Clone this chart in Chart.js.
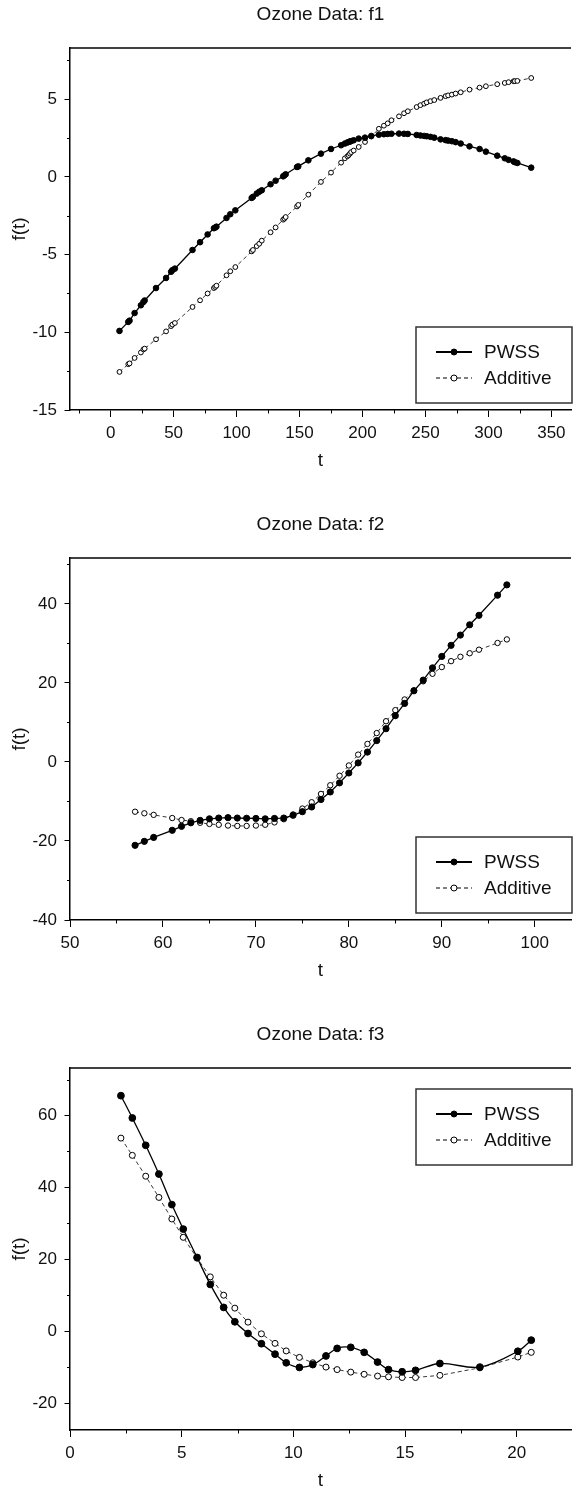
<!DOCTYPE html>
<html lang="en">
<head>
<meta charset="UTF-8">
<title>Ozone Data</title>
<script src="https://cdn.jsdelivr.net/npm/chart.js"></script>
<style>
  * { margin: 0; padding: 0; box-sizing: border-box; }
  body {
    background: #fff;
    width: 576px;
    height: 1490px;
    overflow: hidden;
    position: relative;
  }
  .panel { position: absolute; left: 0; width: 576px; height: 480px; }
</style>
</head>
<body>
<div class="panel" style="top:0"><canvas id="f1" width="576" height="480"></canvas></div>
<div class="panel" style="top:510px"><canvas id="f2" width="576" height="480"></canvas></div>
<div class="panel" style="top:1020px"><canvas id="f3" width="576" height="480"></canvas></div>

<script>
// ---- data ----
const seriesNames = ['PWSS', 'Additive'];

// f1
const f1T = [7, 14, 15, 19, 24, 26, 27, 36, 44, 48, 49, 51, 65, 71, 77, 82, 83, 84, 92, 95, 99,
  112, 113, 116, 118, 120, 127, 131, 137, 138, 139, 148, 149, 157, 167, 175, 183, 186, 188, 189,
  190, 191, 193, 197, 202, 207, 213, 217, 220, 223, 229, 233, 236, 243, 246, 249, 251, 254, 257,
  262, 266, 268, 271, 274, 278, 285, 293, 298, 307, 313, 316, 320, 321, 323, 334];
const f1Pwss = [-9.91, -9.33, -9.25, -8.76, -8.26, -8.05, -7.95, -7.15, -6.5, -6.1, -6.0, -5.9,
  -4.7, -4.2, -3.7, -3.3, -3.26, -3.2, -2.64, -2.4, -2.15, -1.35, -1.28, -1.07, -0.95, -0.86,
  -0.47, -0.24, 0.04, 0.1, 0.17, 0.64, 0.68, 1.07, 1.5, 1.8, 2.04, 2.15, 2.22, 2.25, 2.28, 2.31,
  2.36, 2.47, 2.53, 2.64, 2.72, 2.75, 2.77, 2.78, 2.79, 2.78, 2.77, 2.7, 2.67, 2.64, 2.62, 2.58,
  2.53, 2.42, 2.37, 2.34, 2.3, 2.24, 2.15, 1.97, 1.8, 1.63, 1.37, 1.2, 1.1, 1.0, 0.95, 0.9, 0.6];
const f1Additive = [-12.55, -12.05, -12.0, -11.65, -11.3, -11.1, -11.05, -10.45, -9.94, -9.6,
  -9.5, -9.4, -8.37, -7.94, -7.5, -7.15, -7.08, -7.0, -6.33, -6.07, -5.8, -4.79, -4.7, -4.45,
  -4.3, -4.1, -3.56, -3.25, -2.75, -2.68, -2.58, -1.9, -1.8, -1.14, -0.32, 0.28, 0.92, 1.2, 1.33,
  1.4, 1.5, 1.6, 1.7, 1.93, 2.25, 2.6, 3.1, 3.3, 3.45, 3.65, 3.9, 4.1, 4.23, 4.5, 4.62, 4.72, 4.8,
  4.88, 4.95, 5.09, 5.2, 5.25, 5.3, 5.37, 5.45, 5.62, 5.75, 5.84, 5.97, 6.05, 6.1, 6.16, 6.17,
  6.18, 6.37];
const f1XTicks = [0, 50, 100, 150, 200, 250, 300, 350];
const f1YTicks = [-15, -10, -5, 0, 5];

// f2
const f2T = [57, 58, 59, 61, 62, 63, 64, 65, 66, 67, 68, 69, 70, 71, 72, 73, 74, 75, 76, 77, 78,
  79, 80, 81, 82, 83, 84, 85, 86, 87, 88, 89, 90, 91, 92, 93, 94, 96, 97];
const f2Pwss = [-21.1, -20.1, -19.1, -17.3, -16.3, -15.4, -14.8, -14.4, -14.2, -14.1, -14.2,
  -14.25, -14.3, -14.4, -14.3, -14.2, -13.5, -12.6, -11.4, -9.5, -7.6, -5.3, -2.8, -0.25, 2.5,
  5.4, 8.4, 11.7, 14.8, 18.0, 20.7, 23.8, 26.7, 29.5, 32.1, 34.7, 37.1, 42.2, 44.8];
const f2Additive = [-12.6, -13.0, -13.4, -14.2, -14.7, -15.0, -15.4, -15.7, -15.9, -16.1, -16.2,
  -16.2, -16.1, -15.9, -15.3, -14.5, -13.3, -11.8, -10.2, -8.1, -5.9, -3.5, -0.9, 1.85, 4.55,
  7.3, 10.3, 13.1, 15.8, 18.1, 20.4, 22.3, 24.0, 25.5, 26.6, 27.5, 28.4, 30.1, 31.0];
const f2XTicks = [50, 60, 70, 80, 90, 100];
const f2YTicks = [-40, -20, 0, 20, 40];

// f3
const f3T = [2.28, 2.79, 3.39, 3.98, 4.56, 5.07, 5.69, 6.28, 6.88, 7.38, 7.97, 8.57, 9.18, 9.68,
  10.27, 10.87, 11.46, 11.96, 12.57, 13.17, 13.77, 14.26, 14.87, 15.47, 16.56, 18.35, 20.05, 20.65];
const f3Pwss = [65.5, 59.3, 51.7, 43.7, 35.2, 28.4, 20.5, 13.0, 6.6, 2.6, -0.65, -3.5, -6.4, -8.8,
  -10.1, -9.3, -6.9, -4.8, -4.5, -5.9, -8.6, -10.7, -11.3, -10.9, -9.0, -10.0, -5.6, -2.5];
const f3Additive = [53.7, 48.9, 43.1, 37.2, 31.2, 26.1, 20.3, 15.1, 10.0, 6.4, 2.5, -0.75, -3.4,
  -5.5, -7.3, -8.8, -10.0, -10.7, -11.4, -12.0, -12.5, -12.7, -12.9, -12.9, -12.3, -10.2, -7.2, -5.9];
const f3XTicks = [0, 5, 10, 15, 20];
const f3YTicks = [-20, 0, 20, 40, 60];

// ---- drawing ----
const FONT = "'Liberation Sans', Arial, Helvetica, sans-serif";

const framePlugin = {
  id: 'frame',
  afterDraw(chart, args, opts) {
    const { ctx, chartArea: a, scales: { x, y } } = chart;
    ctx.save();
    ctx.strokeStyle = '#000';

    // top border of the box
    ctx.lineWidth = 1.5;
    ctx.beginPath();
    ctx.moveTo(a.left - 0.75, a.top);
    ctx.lineTo(a.right, a.top);
    ctx.stroke();

    // minor ticks
    ctx.lineWidth = 1;
    const isMajor = (s, v) => s.ticks.some(t => Math.abs(t.value - v) < 1e-6);
    for (let v = Math.ceil(x.min / opts.xMinor) * opts.xMinor; v <= x.max; v += opts.xMinor) {
      if (isMajor(x, v)) continue;
      const px = Math.round(x.getPixelForValue(v)) + 0.5;
      ctx.beginPath();
      ctx.moveTo(px, a.bottom);
      ctx.lineTo(px, a.bottom + 3.5);
      ctx.stroke();
    }
    for (let v = Math.ceil(y.min / opts.yMinor) * opts.yMinor; v <= y.max; v += opts.yMinor) {
      if (isMajor(y, v)) continue;
      const py = Math.round(y.getPixelForValue(v)) + 0.5;
      ctx.beginPath();
      ctx.moveTo(a.left, py);
      ctx.lineTo(a.left - 3, py);
      ctx.stroke();
    }

    // title
    ctx.fillStyle = '#111';
    ctx.font = '19px ' + FONT;
    ctx.textAlign = 'center';
    ctx.textBaseline = 'middle';
    ctx.fillText(opts.title, (a.left + a.right) / 2, 15);

    // legend
    const w = 156, h = 76;
    const lx = a.left + 346;
    const ly = opts.legendAt === 'top' ? a.top + 21 : a.bottom - 7 - h;
    ctx.fillStyle = '#fff';
    ctx.fillRect(lx, ly, w, h);
    ctx.strokeStyle = '#333';
    ctx.lineWidth = 1.5;
    ctx.strokeRect(lx, ly, w, h);

    chart.data.datasets.forEach((ds, i) => {
      const ry = ly + 25 + i * 26;
      ctx.strokeStyle = '#000';
      ctx.lineWidth = i === 0 ? 2.2 : 1;
      ctx.setLineDash(i === 0 ? [] : [4, 3]);
      ctx.beginPath();
      ctx.moveTo(lx + 20, ry);
      ctx.lineTo(lx + 56, ry);
      ctx.stroke();
      ctx.setLineDash([]);
      ctx.beginPath();
      ctx.arc(lx + 38, ry, 3, 0, Math.PI * 2);
      ctx.fillStyle = ds.pointBackgroundColor;
      ctx.fill();
      ctx.lineWidth = 1;
      ctx.stroke();
      ctx.fillStyle = '#111';
      ctx.font = '19px ' + FONT;
      ctx.textAlign = 'left';
      ctx.textBaseline = 'middle';
      ctx.fillText(ds.label, lx + 68, ry + 1);
    });
    ctx.restore();
  }
};

function pts(t, v) {
  return t.map((tt, i) => ({ x: tt, y: v[i] }));
}

function makeChart(id, cfg) {
  const ctx = document.getElementById(id).getContext('2d');
  return new Chart(ctx, {
    type: 'line',
    data: {
      datasets: [{
        label: seriesNames[0],
        data: pts(cfg.t, cfg.pwss),
        borderColor: '#000',
        borderWidth: 1.3,
        pointRadius: cfg.r,
        pointBackgroundColor: '#000',
        pointBorderColor: '#000',
        pointBorderWidth: 1,
        tension: cfg.tension
      }, {
        label: seriesNames[1],
        data: pts(cfg.t, cfg.additive),
        borderColor: '#222',
        borderWidth: 0.9,
        borderDash: [4, 3],
        pointRadius: cfg.r - 0.4,
        pointBackgroundColor: '#fff',
        pointBorderColor: '#000',
        pointBorderWidth: 1,
        tension: 0
      }]
    },
    options: {
      responsive: false,
      animation: false,
      events: [],
      layout: { padding: { top: 48, left: 0, right: 0, bottom: 0 } },
      scales: {
        x: {
          type: 'linear',
          min: cfg.xMin,
          max: cfg.xMax,
          grid: { drawOnChartArea: false, drawTicks: true, tickLength: 7, tickColor: '#000', tickWidth: 1 },
          border: { display: true, color: '#000', width: 1.5 },
          ticks: { color: '#111', font: { family: FONT, size: 17 }, padding: 5.8, maxRotation: 0 },
          title: { display: true, text: 't', color: '#111', font: { family: FONT, size: 19 }, padding: { top: 0, bottom: 7.6 } },
          afterBuildTicks: s => { s.ticks = cfg.xTicks.map(v => ({ value: v })); },
          afterFit: s => { s.height = 70; s.paddingLeft = 0; s.paddingRight = 0; }
        },
        y: {
          type: 'linear',
          min: cfg.yMin,
          max: cfg.yMax,
          grid: { drawOnChartArea: false, drawTicks: true, tickLength: 5.5, tickColor: '#000', tickWidth: 1 },
          border: { display: true, color: '#000', width: 1.5 },
          ticks: { color: '#111', font: { family: FONT, size: 17 }, padding: 7.5 },
          title: { display: true, text: 'f(t)', color: '#111', font: { family: FONT, size: 19 }, padding: { top: 8.6, bottom: 0 } },
          afterBuildTicks: s => { s.ticks = cfg.yTicks.map(v => ({ value: v })); },
          afterFit: s => { s.width = 70; s.paddingTop = 0; s.paddingBottom = 0; }
        }
      },
      plugins: {
        legend: { display: false },
        tooltip: { enabled: false },
        frame: { title: cfg.title, legendAt: cfg.legendAt, xMinor: cfg.xMinor, yMinor: cfg.yMinor }
      }
    },
    plugins: [framePlugin]
  });
}

makeChart('f1', {
  title: 'Ozone Data: f1', t: f1T, pwss: f1Pwss, additive: f1Additive,
  xTicks: f1XTicks, yTicks: f1YTicks, xMin: -32.3, xMax: 365.6, yMin: -15, yMax: 8.3,
  xMinor: 25, yMinor: 2.5, r: 2.8, tension: 0, legendAt: 'bottom'
});
makeChart('f2', {
  title: 'Ozone Data: f2', t: f2T, pwss: f2Pwss, additive: f2Additive,
  xTicks: f2XTicks, yTicks: f2YTicks, xMin: 50, xMax: 103.9, yMin: -40, yMax: 51.6,
  xMinor: 5, yMinor: 10, r: 3.1, tension: 0, legendAt: 'bottom'
});
makeChart('f3', {
  title: 'Ozone Data: f3', t: f3T, pwss: f3Pwss, additive: f3Additive,
  xTicks: f3XTicks, yTicks: f3YTicks, xMin: 0, xMax: 22.43, yMin: -27.5, yMax: 73.2,
  xMinor: 2.5, yMinor: 10, r: 3.4, tension: 0.35, legendAt: 'top'
});
</script>
</body>
</html>
